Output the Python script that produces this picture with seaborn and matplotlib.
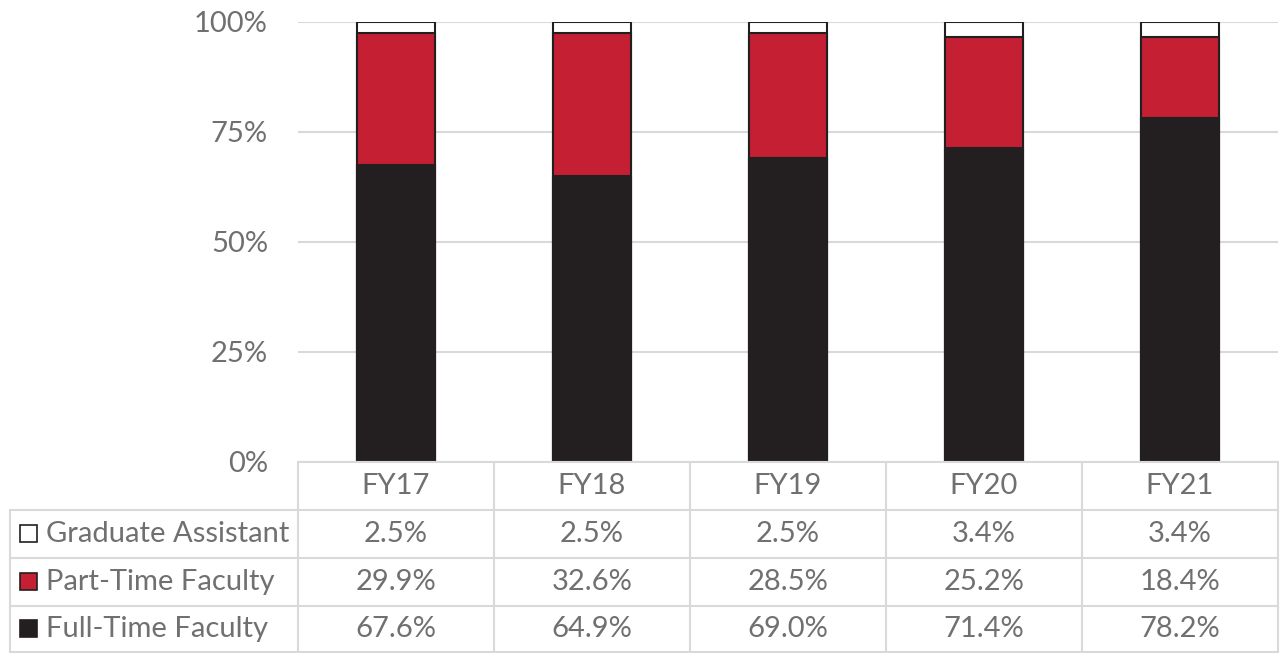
import numpy as np
import pandas as pd
import matplotlib
matplotlib.use("Agg")
import matplotlib.pyplot as plt
import matplotlib.transforms as mtransforms
from matplotlib.lines import Line2D
from matplotlib.patches import Rectangle
import seaborn as sns

categories = ["FY17", "FY18", "FY19", "FY20", "FY21"]
series_names = ["Graduate Assistant", "Part-Time Faculty", "Full-Time Faculty"]
full_time = [67.6, 64.9, 69.0, 71.4, 78.2]
part_time = [29.9, 32.6, 28.5, 25.2, 18.4]
grad_asst = [2.5, 2.5, 2.5, 3.4, 3.4]
y_ticks = [0, 25, 50, 75, 100]

sns.set_theme(style="white")
plt.rcParams["font.family"] = ["Lato", "DejaVu Sans"]

TXT = "#707070"
GRID = "#D9D9D9"
RED = "#C41F33"
BLACK = "#231F20"
EDGE = "#231F20"
FS = 21

W, H = 1281, 653
fig = plt.figure(figsize=(W / 100, H / 100), dpi=100)
ax = fig.add_axes([298 / W, (H - 462) / H, 980 / W, 440 / H])

ft = np.array(full_time)
pt = np.array(part_time)
ga = np.array(grad_asst)
df = pd.DataFrame({"cat": categories, "total": ft + pt + ga, "ftpt": ft + pt, "ft": ft})

sns.barplot(data=df, x="cat", y="total", color="white", edgecolor=EDGE, linewidth=1.5, width=0.4, ax=ax, saturation=1, zorder=3)
sns.barplot(data=df, x="cat", y="ftpt", color=RED, edgecolor=EDGE, linewidth=1.5, width=0.4, ax=ax, saturation=1, zorder=3)
sns.barplot(data=df, x="cat", y="ft", color=BLACK, edgecolor=EDGE, linewidth=1.5, width=0.4, ax=ax, saturation=1, zorder=3)

ax.set_xlim(-0.5, len(categories) - 0.5)
ax.set_ylim(0, 100)
ax.set_yticks(y_ticks)
ax.set_yticklabels([f"{t}%" for t in y_ticks], color=TXT, fontsize=FS)
ax.tick_params(axis="y", length=0, pad=21.6)
ax.set_xticks([])
ax.set_xlabel("")
ax.set_ylabel("")
for s in ax.spines.values():
    s.set_visible(False)
ax.yaxis.grid(True, color=GRID, linewidth=1.5, zorder=0)
ax.set_axisbelow(True)

# data table below the plot
def fy(py):
    return (H - py) / H

def fx(px):
    return px / W

lw = 1.5
row_edges = [462, 510, 558, 606, 652]
col_edges = [298, 494, 690, 886, 1082, 1278]
fig.add_artist(Line2D([fx(298), fx(1278)], [fy(462), fy(462)], color=GRID, lw=lw))
for r in row_edges[1:]:
    fig.add_artist(Line2D([fx(10), fx(1278)], [fy(r), fy(r)], color=GRID, lw=lw))
for c in col_edges:
    fig.add_artist(Line2D([fx(c), fx(c)], [fy(462), fy(652)], color=GRID, lw=lw))
fig.add_artist(Line2D([fx(10), fx(10)], [fy(510), fy(652)], color=GRID, lw=lw))

blend = mtransforms.blended_transform_factory(ax.transData, fig.transFigure)
row_centers = [(row_edges[i] + row_edges[i + 1]) / 2 for i in range(4)]
for i, cat in enumerate(categories):
    ax.text(i, fy(row_centers[0]), cat, transform=blend, ha="center", va="center", color=TXT, fontsize=FS, clip_on=False)

table_rows = [grad_asst, part_time, full_time]
marker_colors = ["white", RED, BLACK]
for r, (name, vals, mc) in enumerate(zip(series_names, table_rows, marker_colors)):
    yc = row_centers[r + 1]
    fig.add_artist(Rectangle((fx(20), fy(yc + 8)), 17 / W, 17 / H, facecolor=mc, edgecolor=EDGE, lw=1.2, transform=fig.transFigure))
    fig.text(fx(46), fy(yc), name, ha="left", va="center", color=TXT, fontsize=FS)
    for i, v in enumerate(vals):
        ax.text(i, fy(yc), f"{v:.1f}%", transform=blend, ha="center", va="center", color=TXT, fontsize=FS, clip_on=False)

fig.savefig("out.png", dpi=100, facecolor="white")
